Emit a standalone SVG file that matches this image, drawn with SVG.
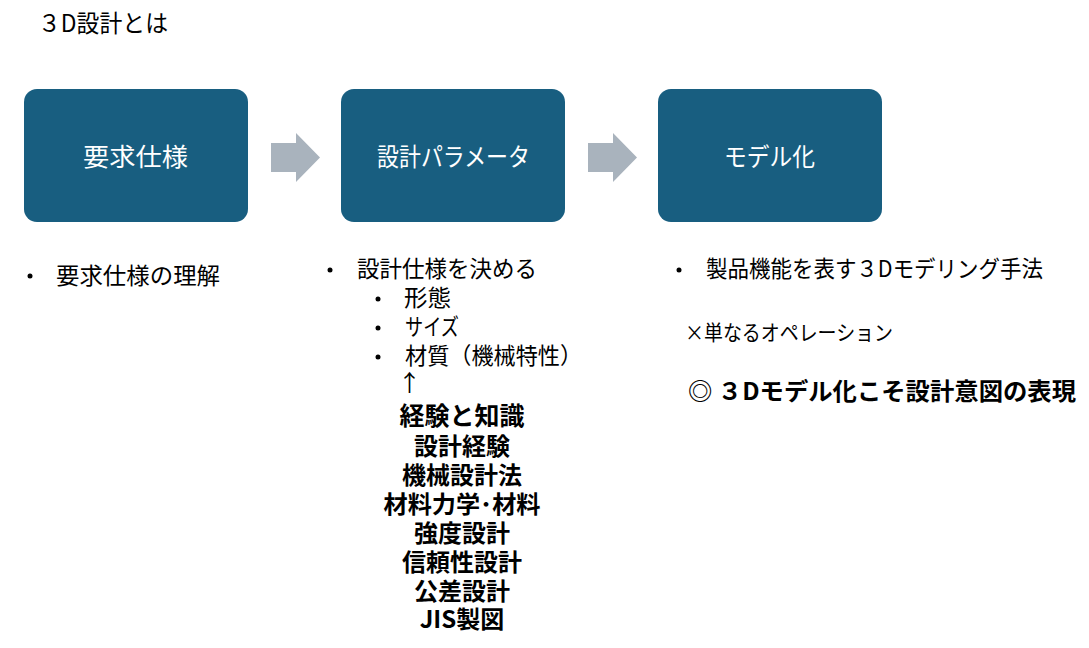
<svg xmlns="http://www.w3.org/2000/svg" width="1089" height="648" viewBox="0 0 1089 648">
<style>
text{font-family:"Noto Sans CJK JP","Noto Sans",sans-serif;fill:#000}
.box{fill:#185E80}
.bt{fill:#fff;font-size:25px}
.arr{fill:#A9B3BD}
.t{font-size:23px}
.b{font-size:24px;font-weight:bold;text-anchor:middle}
.dot{fill:#000}
</style>
<rect width="1089" height="648" fill="#fff"/>
<text x="38" y="32" style="font-size:24px" textLength="130" lengthAdjust="spacingAndGlyphs">３D設計とは</text>
<g id="node1"><rect class="box" x="24" y="89" width="224" height="133" rx="13"/><text class="bt" x="83" y="166" textLength="105" lengthAdjust="spacingAndGlyphs">要求仕様</text></g>
<g id="node2"><rect class="box" x="341" y="89" width="224" height="133" rx="13"/><text class="bt" x="377" y="166" textLength="153" lengthAdjust="spacingAndGlyphs">設計パラメータ</text></g>
<g id="node3"><rect class="box" x="658" y="89" width="224" height="133" rx="13"/><text class="bt" x="724" y="166" textLength="91" lengthAdjust="spacingAndGlyphs">モデル化</text></g>
<g id="connectors">
<polygon class="arr" points="271,143 296,143 296,133 320,157.5 296,182 296,172 271,172"/>
<polygon class="arr" points="588,143 613,143 613,133 637,157.5 613,182 613,172 588,172"/>
</g>
<g id="text1">
<circle class="dot" cx="30" cy="276" r="2.5"/>
<text class="t" x="56" y="284" textLength="164" lengthAdjust="spacingAndGlyphs">要求仕様の理解</text>
</g>
<g id="text2">
<circle class="dot" cx="330" cy="270" r="2.5"/>
<text class="t" x="357" y="277" textLength="180" lengthAdjust="spacingAndGlyphs">設計仕様を決める</text>
<circle class="dot" cx="378" cy="299" r="2.5"/>
<text class="t" x="404" y="306" textLength="47" lengthAdjust="spacingAndGlyphs">形態</text>
<circle class="dot" cx="378" cy="328" r="2.5"/>
<text class="t" x="405" y="335" textLength="54" lengthAdjust="spacingAndGlyphs">サイズ</text>
<circle class="dot" cx="378" cy="357" r="2.5"/>
<text class="t" x="405" y="364" textLength="177" lengthAdjust="spacingAndGlyphs">材質（機械特性）</text>
<text class="t" x="398" y="391">↑</text>
<text class="b" x="462" y="425" style="font-size:25px">経験と知識</text>
<text class="b" x="462" y="455">設計経験</text>
<text class="b" x="462" y="484">機械設計法</text>
<text class="b" x="462" y="513" textLength="157" lengthAdjust="spacingAndGlyphs">材料力学･材料</text>
<text class="b" x="462" y="542">強度設計</text>
<text class="b" x="462" y="571">信頼性設計</text>
<text class="b" x="462" y="600">公差設計</text>
<text class="b" x="462" y="628">JIS製図</text>
</g>
<g id="text3">
<circle class="dot" cx="679" cy="270" r="2.5"/>
<text class="t" x="706" y="277" textLength="337" lengthAdjust="spacingAndGlyphs">製品機能を表す３Dモデリング手法</text>
<text x="685" y="340" style="font-size:21px" textLength="208" lengthAdjust="spacingAndGlyphs">×単なるオペレーション</text>
<text x="688" y="400" style="font-size:24px;font-weight:bold" textLength="388" lengthAdjust="spacingAndGlyphs">◎ ３Dモデル化こそ設計意図の表現</text>
</g>
</svg>
